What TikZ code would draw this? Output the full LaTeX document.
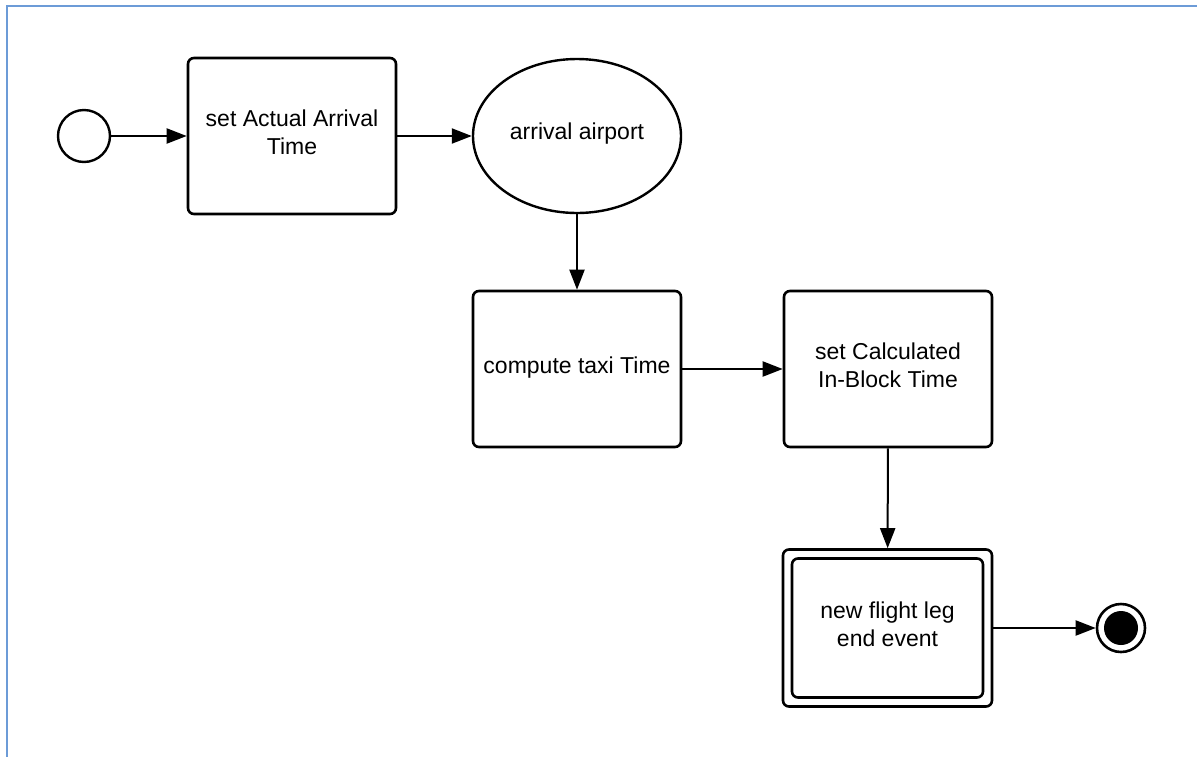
\documentclass[tikz,border=0pt]{standalone}
\usepackage{fontspec}
\setmainfont{Liberation Sans}
\usetikzlibrary{arrows.meta,shapes.geometric,positioning}
\begin{document}
\begin{tikzpicture}[x=1pt,y=-1pt,
  txt/.style={font=\fontsize{23}{28}\selectfont, align=center, inner sep=0pt},
  task/.style={draw=black, line width=2.6pt, rounded corners=6pt, minimum width=208pt, minimum height=156pt, inner sep=0pt},
  caption/.style={label={[txt, yshift=4pt]center:#1}},
  flow/.style={draw=black, line width=2pt, -{Triangle[length=20pt,width=15pt]}},
  frame/.style={draw={rgb,255:red,108;green,155;blue,215}, line width=2pt}
]
  % page and frame
  \useasboundingbox (0,0) rectangle (1197,756);
  \fill[white] (0,0) rectangle (1197,756);
  \draw[frame] (7,760) -- (7,6) -- (1200,6);

  % start event
  \node[circle, draw=black, line width=2.4pt, minimum size=52pt, inner sep=0pt] (start) at (84,136) {};

  % tasks
  \node[task, caption={set Actual Arrival\\Time}] (actual) at (292,136) {};
  \node[ellipse, draw=black, line width=2.4pt, minimum width=208pt, minimum height=154pt, inner sep=0pt,
        label={[txt, yshift=2pt]center:arrival airport}] (airport) at (577,136) {};
  \node[task, label={[txt, yshift=1pt]center:compute taxi Time}] (taxi) at (577,369) {};
  \node[task, caption={set Calculated\\In-Block Time}] (inblock) at (888,369) {};

  % event task with double border
  \node[task, minimum width=209pt, minimum height=157pt] (legend) at (887.5,628) {};
  \node[task, minimum width=191pt, minimum height=139pt, caption={new flight leg\\end event}] (leginner) at (887.5,628) {};

  % end event
  \node[circle, draw=black, line width=2.6pt, minimum size=48pt, inner sep=0pt] (stop) at (1121,628) {};
  \node[circle, fill=black, minimum size=34pt, inner sep=0pt] (stopdot) at (1121,628) {};

  % sequence flows
  \draw[flow] (start) -- (actual);
  \draw[flow] (actual) -- (airport);
  \draw[flow] (airport) -- (taxi);
  \draw[flow] (taxi) -- (inblock);
  \draw[flow] (inblock) -- (legend);
  \draw[flow] (legend) -- (stop);
\end{tikzpicture}
\end{document}
